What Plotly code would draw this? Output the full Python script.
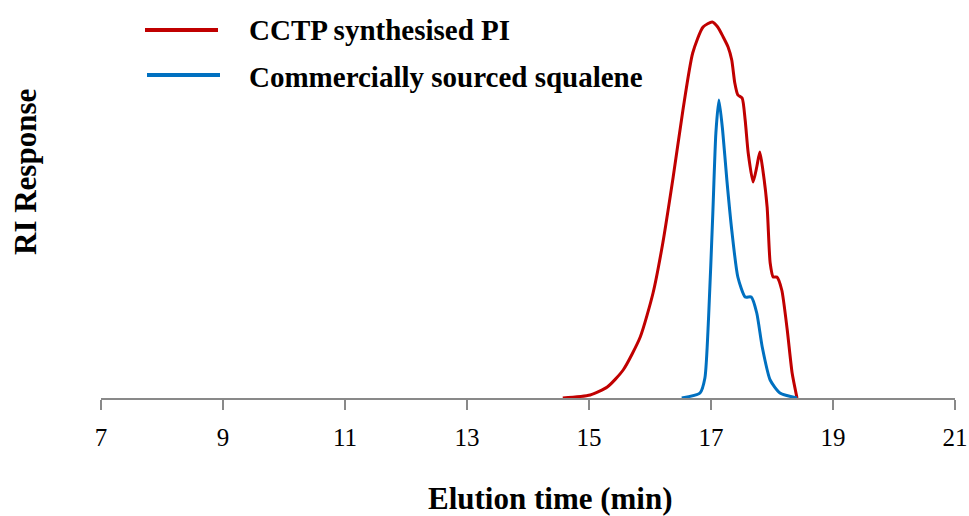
import plotly.graph_objects as go

# Elution time (min) and RI response (arbitrary units)
red_name = "CCTP synthesised PI"
red_t = [14.57, 15.02, 15.3, 15.56, 15.84, 16.05, 16.21, 16.38, 16.54, 16.7, 16.87, 17.02,
         17.11, 17.2, 17.28, 17.34, 17.39, 17.44, 17.51, 17.56, 17.61, 17.69, 17.75, 17.8,
         17.85, 17.92, 17.97, 18.02, 18.08, 18.16, 18.25, 18.33, 18.41]
red_v = [0, 3, 11, 28, 61, 105, 155, 221, 288, 345, 371, 376,
         371, 361, 351, 338, 315, 303, 300, 278, 245, 216, 231, 246,
         228, 191, 135, 121, 121, 108, 68, 25, 0]

blue_name = "Commercially sourced squalene"
blue_t = [16.52, 16.82, 16.9, 16.96, 17.03, 17.08, 17.13, 17.19, 17.26, 17.34, 17.44, 17.56,
          17.66, 17.75, 17.84, 17.97, 18.13, 18.41]
blue_v = [0, 5, 20, 80, 185, 265, 298, 268, 218, 168, 121, 101,
          101, 85, 51, 18, 5, 0]

x_ticks = [7, 9, 11, 13, 15, 17, 19, 21]

RED = "#C00000"
BLUE = "#0070C0"
FONT = "Liberation Serif"

fig = go.Figure()
fig.add_trace(go.Scatter(x=red_t, y=red_v, mode="lines", name=red_name,
                         line=dict(color=RED, width=3, shape="spline", smoothing=0.6)))
fig.add_trace(go.Scatter(x=blue_t, y=blue_v, mode="lines", name=blue_name,
                         line=dict(color=BLUE, width=3, shape="spline", smoothing=0.6)))

W, H = 969, 516
L, R, T, B = 101, 14, 0, 118
pw, ph = W - L - R, H - T - B


def px(x):
    return (x - L) / pw


def py(y):
    return (H - B - y) / ph


shapes = [
    dict(type="line", xref="paper", yref="paper", x0=px(145), x1=px(218), y0=py(30), y1=py(30),
         line=dict(color=RED, width=4)),
    dict(type="line", xref="paper", yref="paper", x0=px(147), x1=px(220), y0=py(75), y1=py(75),
         line=dict(color=BLUE, width=4)),
]
annotations = [
    dict(xref="paper", yref="paper", x=px(247), y=py(30), text="<b>" + red_name + "</b>",
         showarrow=False, xanchor="left", yanchor="middle", font=dict(family=FONT, size=29, color="black")),
    dict(xref="paper", yref="paper", x=px(247), y=py(77), text="<b>" + blue_name + "</b>",
         showarrow=False, xanchor="left", yanchor="middle", font=dict(family=FONT, size=29, color="black")),
    dict(xref="paper", yref="paper", x=px(25), y=py(172), text="<b>RI Response</b>", textangle=-90,
         showarrow=False, xanchor="center", yanchor="middle", font=dict(family=FONT, size=31, color="black")),
    dict(xref="paper", yref="paper", x=px(550), y=py(498), text="<b>Elution time (min)</b>",
         showarrow=False, xanchor="center", yanchor="middle", font=dict(family=FONT, size=31, color="black")),
]

fig.update_layout(
    width=W, height=H,
    margin=dict(l=L, r=R, t=T, b=B),
    paper_bgcolor="white", plot_bgcolor="white",
    showlegend=False,
    shapes=shapes, annotations=annotations,
    xaxis=dict(range=[7, 21], tickvals=x_ticks, ticktext=[str(v) for v in x_ticks],
               showgrid=False, zeroline=False, showline=True, linecolor="#898989", linewidth=2,
               ticks="outside", ticklen=10, tickwidth=2, tickcolor="#898989",
               ticklabelstandoff=6,
               tickfont=dict(family=FONT, size=25, color="black")),
    yaxis=dict(range=[0, 398], visible=False, fixedrange=True),
)

fig.write_html("out.html", config={"displayModeBar": False},
               post_script="document.body.style.margin='0';")
